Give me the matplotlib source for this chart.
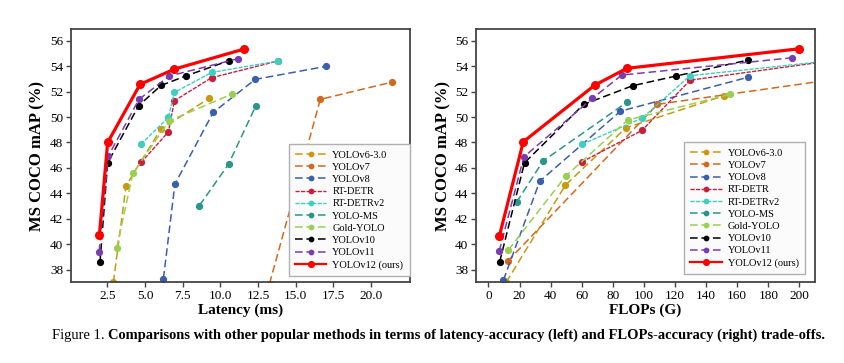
import matplotlib
matplotlib.use("Agg")
import matplotlib.pyplot as plt

plt.rcParams['font.family'] = ['Liberation Serif', 'DejaVu Serif']

# series names, colours
names = ["YOLOv6-3.0", "YOLOv7", "YOLOv8", "RT-DETR", "RT-DETRv2",
         "YOLO-MS", "Gold-YOLO", "YOLOv10", "YOLOv11", "YOLOv12 (ours)"]
colors = ["#c99a0e", "#d2691e", "#3a5fae", "#c8203a", "#3fcfc0",
          "#2a968a", "#9ad052", "#000000", "#7a3cb0", "#ff0000"]

# latency (ms) vs mAP
lat_v6 = [2.9, 3.74, 6.05, 9.24]
map_v6_l = [37.0, 44.6, 49.05, 51.46]
lat_v7 = [13.26, 16.63, 21.4]
map_v7_l = [36.9, 51.39, 52.75]
lat_v8 = [6.22, 6.98, 9.52, 12.31, 16.98]
map_v8_l = [37.29, 44.72, 50.36, 52.96, 53.98]
lat_rtdetr = [4.74, 6.55, 6.95, 9.41, 13.8]
map_rtdetr_l = [46.43, 48.83, 51.28, 53.09, 54.4]
lat_rtdetr2 = [4.74, 6.55, 6.95, 9.43, 13.8]
map_rtdetr2_l = [47.87, 49.97, 51.94, 53.51, 54.4]
lat_ms = [8.61, 10.54, 12.33]
map_ms_l = [43.04, 46.29, 50.83]
lat_gold = [3.12, 4.19, 6.6, 10.76]
map_gold_l = [39.7, 45.56, 49.7, 51.8]
lat_v10 = [2.01, 2.52, 4.58, 6.07, 7.73, 10.56]
map_v10_l = [38.57, 46.4, 50.9, 52.49, 53.24, 54.43]
lat_v11 = [1.95, 2.55, 4.6, 6.6, 11.14]
map_v11_l = [39.4, 46.9, 51.39, 53.22, 54.58]
lat_v12 = [1.97, 2.52, 4.67, 6.95, 11.58]
map_v12_l = [40.7, 48.0, 52.57, 53.77, 55.35]

# FLOPs (G) vs mAP
flops_v6 = [11.4, 49.5, 88.4, 151.4]
map_v6_r = [37.0, 44.64, 49.15, 51.67]
flops_v7 = [12.3, 108.7, 216]
map_v7_r = [38.65, 51.0, 52.85]
flops_v8 = [9.6, 33.0, 84.9, 166.7]
map_v8_r = [37.16, 44.95, 50.46, 53.12]
flops_rtdetr = [60.1, 98.7, 129.7, 222]
map_rtdetr_r = [46.47, 48.94, 52.9, 54.45]
flops_rtdetr2 = [60.4, 98.7, 129.7, 222]
map_rtdetr2_r = [47.87, 49.9, 53.25, 54.45]
flops_ms = [18.1, 35.2, 88.9]
map_ms_r = [43.3, 46.55, 51.15]
flops_gold = [12.7, 49.7, 89.5, 155.2]
map_gold_r = [39.52, 45.35, 49.76, 51.78]
flops_v10 = [7.2, 23.2, 61.2, 92.7, 120.5, 167.0]
map_v10_r = [38.6, 46.4, 50.99, 52.46, 53.22, 54.48]
flops_v11 = [6.9, 22.8, 66.8, 85.7, 195.1]
map_v11_r = [39.44, 46.87, 51.46, 53.3, 54.66]
flops_v12 = [7.0, 22.4, 68.3, 89.0, 200.0]
map_v12_r = [40.62, 48.05, 52.5, 53.83, 55.37]

left_data = [(lat_v6, map_v6_l), (lat_v7, map_v7_l), (lat_v8, map_v8_l),
             (lat_rtdetr, map_rtdetr_l), (lat_rtdetr2, map_rtdetr2_l),
             (lat_ms, map_ms_l), (lat_gold, map_gold_l), (lat_v10, map_v10_l),
             (lat_v11, map_v11_l), (lat_v12, map_v12_l)]
right_data = [(flops_v6, map_v6_r), (flops_v7, map_v7_r), (flops_v8, map_v8_r),
              (flops_rtdetr, map_rtdetr_r), (flops_rtdetr2, map_rtdetr2_r),
              (flops_ms, map_ms_r), (flops_gold, map_gold_r), (flops_v10, map_v10_r),
              (flops_v11, map_v11_r), (flops_v12, map_v12_r)]

fig = plt.figure(figsize=(8.45, 3.63), dpi=100)
ax1 = fig.add_axes([0.0837, 0.2223, 0.4019, 0.697])
ax2 = fig.add_axes([0.5633, 0.2223, 0.4012, 0.697])


def draw(ax, data):
    for i, (xs, ys) in enumerate(data):
        if i == 9:
            ax.plot(xs, ys, '-o', color=colors[i], lw=2.3, ms=5.5, label=names[i], zorder=5)
        elif i in (3, 4):
            ax.plot(xs, ys, color=colors[i], ls=(0, (3, 1)), lw=1.0, marker='o', ms=4.2,
                    label=names[i])
        else:
            ax.plot(xs, ys, color=colors[i], ls=(0, (5, 2.5)), lw=1.1, marker='o', ms=4.2,
                    label=names[i])
    ax.set_ylim(37, 56.9)
    ax.set_yticks(range(38, 57, 2))
    ax.set_ylabel("MS COCO mAP (%)", fontsize=12, fontweight='bold', labelpad=3)
    for s in ax.spines.values():
        s.set_color("#444444")
        s.set_linewidth(1.3)
    ax.tick_params(labelsize=9.5, length=3.5, width=1.0, color="#444444", pad=2)


draw(ax1, left_data)
ax1.set_xlim(0.07, 22.6)
ax1.set_xticks([2.5, 5.0, 7.5, 10.0, 12.5, 15.0, 17.5, 20.0])
ax1.set_xlabel("Latency (ms)", fontsize=11, fontweight='bold', labelpad=1)

draw(ax2, right_data)
ax2.set_xlim(-8, 210)
ax2.set_xticks(range(0, 201, 20))
ax2.set_xlabel("FLOPs (G)", fontsize=11, fontweight='bold', labelpad=1)

for ax, anchor in ((ax1, (0.998, 0.025)), (ax2, (0.9705, 0.032))):
    leg = ax.legend(loc='lower right', bbox_to_anchor=anchor, borderaxespad=0,
                    fontsize=7.5, labelspacing=0.28, handlelength=3.0, handletextpad=0.6,
                    markerscale=0.75, fancybox=False, framealpha=1, borderpad=0.6)
    leg.get_frame().set_edgecolor("#b0b0b0")
    leg.get_frame().set_facecolor("#fbfbfb")
    leg.get_frame().set_linewidth(1.0)
    leg.get_lines()[-1].set_linewidth(1.6)

# caption: plain prefix, bold remainder
cap_y = 1 - 335 / 363
t1 = fig.text(52 / 845, cap_y, "Figure 1. ", fontsize=10.45, va='center', ha='left')
fig.canvas.draw()
bb = t1.get_window_extent()
fig.text(bb.x1 / fig.bbox.width, cap_y,
         "Comparisons with other popular methods in terms of latency-accuracy (left) "
         "and FLOPs-accuracy (right) trade-offs.",
         fontsize=10.45, fontweight='bold', va='center', ha='left')

fig.savefig("out.png", dpi=100)
